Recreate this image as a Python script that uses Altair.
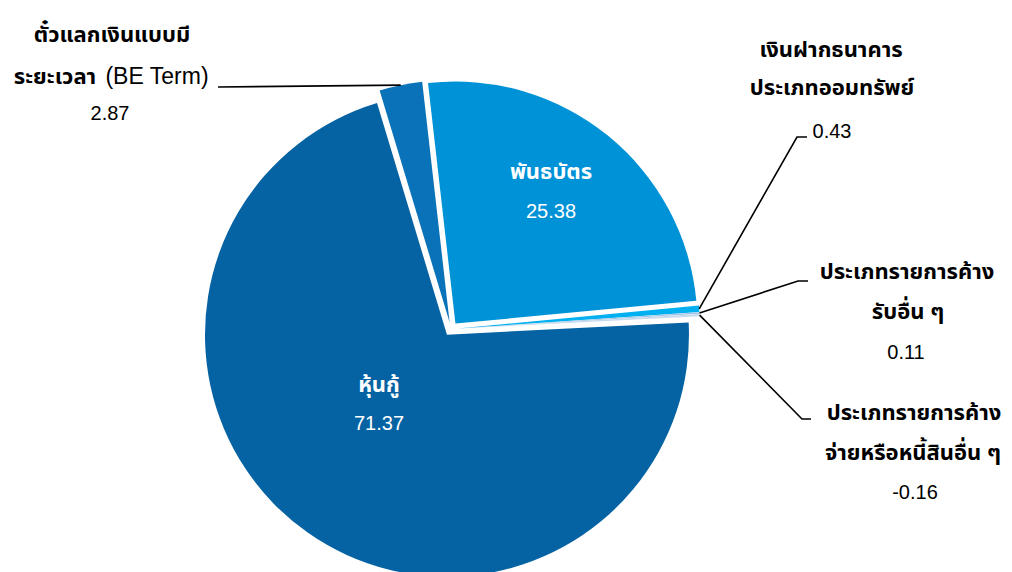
import math
import altair as alt
import pandas as pd

# ---- data ----
categories = [
    "พันธบัตร",
    "เงินฝากธนาคารประเภทออมทรัพย์",
    "ประเภทรายการค้างรับอื่น ๆ",
    "ประเภทรายการค้างจ่ายหรือหนี้สินอื่น ๆ",
    "หุ้นกู้",
    "ตั๋วแลกเงินแบบมีระยะเวลา (BE Term)",
]
values = [25.38, 0.43, 0.11, -0.16, 71.37, 2.87]
label_lines = [
    ["พันธบัตร"],
    ["เงินฝากธนาคาร", "ประเภทออมทรัพย์"],
    ["ประเภทรายการค้าง", "รับอื่น ๆ"],
    ["ประเภทรายการค้าง", "จ่ายหรือหนี้สินอื่น ๆ"],
    ["หุ้นกู้"],
    ["ตั๋วแลกเงินแบบมี", "ระยะเวลา"],
]
latin_parts = [[], [], [], [], [], ["(BE Term)"]]

# ---- style / layout ----
colors = ["#0092D7", "#00B0F0", "#9DC3E6", "#C5DAEE", "#0563A3", "#0A72B8"]
OFF = 8
W, H = 996, 564
CX, CY = 451 - OFF, 329 - OFF
R = 242
EXPLODE = 7
START_DEG = -6.5
START = math.radians(START_DEG)
THAI_FONT = "Tahoma, 'Noto Sans Thai', 'Noto Sans', sans-serif"
NUM_FONT = "Liberation Sans, Arial, sans-serif"

# label positions (page px)
label_pos = [
    {"lines": [(551, 172)], "value": (551, 212), "inside": True},
    {"lines": [(831, 50), (832, 88)], "value": (832, 132), "inside": False,
     "leader": [(797, 137), (807, 137)]},
    {"lines": [(907, 272), (908, 312)], "value": (906, 353), "inside": False,
     "leader": [(798, 281), (808, 281)]},
    {"lines": [(914, 413), (913, 453)], "value": (915, 493), "inside": False,
     "leader": [(802, 419), (811, 419)]},
    {"lines": [(379, 385)], "value": (379, 424), "inside": True},
    {"lines": [(112, 35), (55, 77)], "latin": [(157, 77)], "value": (110, 114),
     "inside": False, "leader": [(218, 87)]},
]

df = pd.DataFrame({"cat": categories, "value": values, "order": list(range(len(values)))})

base = (
    alt.Chart(df)
    .transform_calculate(absval="abs(datum.value)")
    .transform_window(cum="sum(absval)", sort=[{"field": "order"}], frame=[None, 0])
    .transform_joinaggregate(total="sum(absval)")
    .transform_calculate(t1=f"{START} + datum.cum / datum.total * 2 * PI")
    .transform_calculate(t0="datum.t1 - datum.absval / datum.total * 2 * PI")
    .transform_calculate(mid="(datum.t0 + datum.t1) / 2")
    .transform_calculate(
        cx=f"{CX} + {EXPLODE} * sin(datum.mid)",
        cy=f"{CY} - {EXPLODE} * cos(datum.mid)",
    )
)

arcs = base.mark_arc(outerRadius=R).encode(
    theta=alt.Theta("t0:Q", scale=None, stack=None),
    theta2="t1:Q",
    x=alt.X("cx:Q", scale=None, axis=None),
    y=alt.Y("cy:Q", scale=None, axis=None),
    color=alt.Color("cat:N", scale=alt.Scale(domain=categories, range=colors), legend=None),
)

# leader lines: start at slice outer edge (mid angle), from data
total = sum(abs(v) for v in values)
rows = []
cum = 0.0
for i, v in enumerate(values):
    a0 = START + cum / total * 2 * math.pi
    cum += abs(v)
    a1 = START + cum / total * 2 * math.pi
    mid = (a0 + a1) / 2
    lp = label_pos[i]
    if "leader" in lp:
        sx = CX + (R + EXPLODE) * math.sin(mid)
        sy = CY - (R + EXPLODE) * math.cos(mid)
        pts = [(sx, sy)] + [(x - OFF, y - OFF) for x, y in lp["leader"]]
        for k, (x, y) in enumerate(pts):
            rows.append({"id": i, "seq": k, "x": x, "y": y})
lines_df = pd.DataFrame(rows)

leaders = alt.Chart(lines_df).mark_line(color="black", strokeWidth=1.6).encode(
    x=alt.X("x:Q", scale=None, axis=None),
    y=alt.Y("y:Q", scale=None, axis=None),
    detail="id:N",
    order="seq:Q",
)

trows, nrows = [], []
for i, v in enumerate(values):
    lp = label_pos[i]
    col = "white" if lp["inside"] else "black"
    for txt, (x, y) in zip(label_lines[i], lp["lines"]):
        trows.append({"t": txt, "x": x - OFF, "y": y - OFF, "c": col})
    for txt, (x, y) in zip(latin_parts[i], lp.get("latin", [])):
        nrows.append({"t": txt, "x": x - OFF, "y": y - OFF, "c": col, "s": 23})
    x, y = lp["value"]
    nrows.append({"t": f"{v:.2f}", "x": x - OFF, "y": y - OFF, "c": col, "s": 20})

thai_text = alt.Chart(pd.DataFrame(trows)).mark_text(
    font=THAI_FONT, fontSize=22, fontWeight="bold", align="center", baseline="middle"
).encode(
    x=alt.X("x:Q", scale=None, axis=None),
    y=alt.Y("y:Q", scale=None, axis=None),
    text="t:N",
    color=alt.Color("c:N", scale=None),
)

num_text = alt.Chart(pd.DataFrame(nrows)).mark_text(
    font=NUM_FONT, align="center", baseline="middle"
).encode(
    x=alt.X("x:Q", scale=None, axis=None),
    y=alt.Y("y:Q", scale=None, axis=None),
    text="t:N",
    color=alt.Color("c:N", scale=None),
    size=alt.Size("s:Q", scale=None),
)

chart = (
    alt.layer(arcs, leaders, thai_text, num_text)
    .properties(width=W, height=H, autosize=alt.AutoSizeParams(type="none"), padding=0)
    .configure_view(stroke=None)
)

chart.save("out.html", embed_options={"renderer": "svg", "actions": False})
